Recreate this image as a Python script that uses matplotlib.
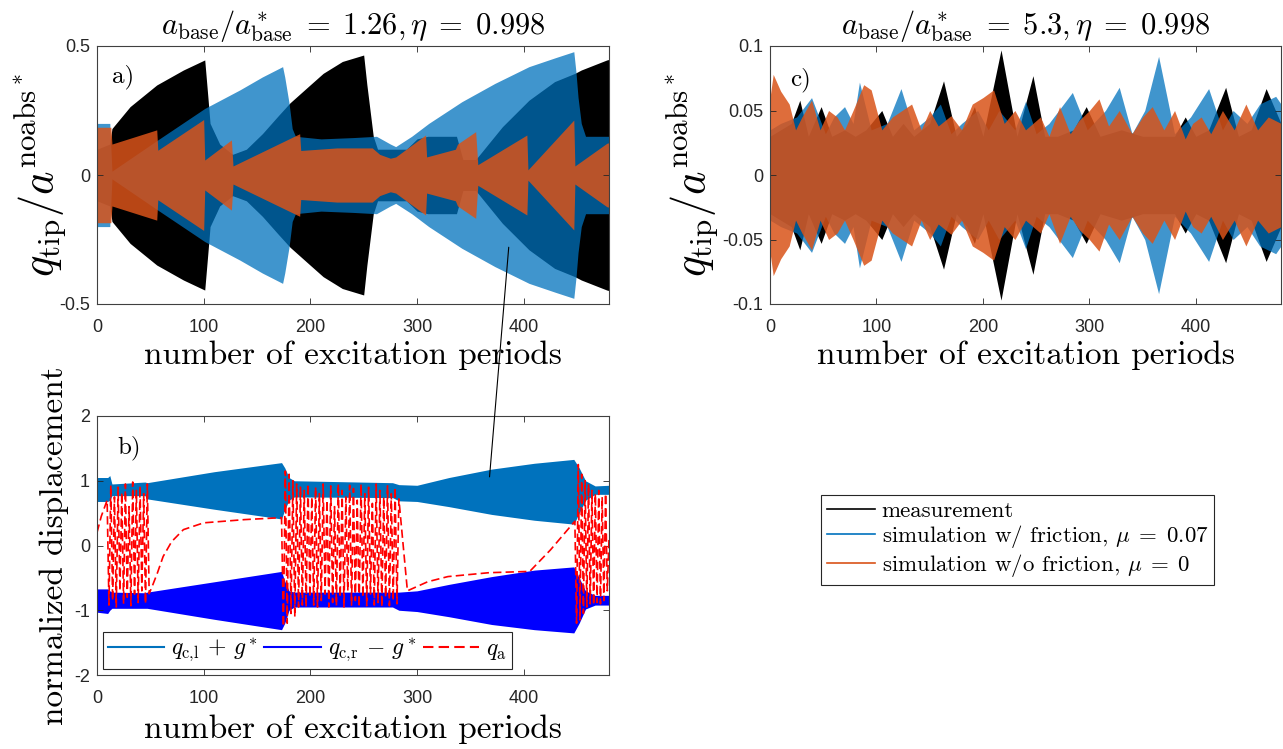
import numpy as np
import matplotlib.pyplot as plt
from matplotlib.lines import Line2D
from matplotlib.patches import ConnectionPatch

plt.rcParams['mathtext.fontset'] = 'cm'
plt.rcParams['axes.unicode_minus'] = False
plt.rcParams['font.family'] = ['Liberation Sans', 'DejaVu Sans']

C_MEAS = 'black'
C_FRIC = '#0072BD'
C_NOFR = '#D95319'

# ---- panel a: envelope (half amplitude) of each signal
a_meas_x = [0, 12, 14, 31, 56, 81, 101, 104, 106, 115, 127, 140, 155, 170, 181, 200, 212, 230, 250, 253,
            256, 259, 263, 290, 300, 310, 337, 343, 355, 380, 405, 429, 448, 454, 478, 480]
a_meas_amp = [0.10, 0.12, 0.18, 0.265, 0.349, 0.407, 0.446, 0.30, 0.20, 0.12, 0.08, 0.10, 0.16, 0.23, 0.28, 0.35, 0.394, 0.44, 0.465, 0.35,
              0.25, 0.15, 0.10, 0.10, 0.14, 0.15, 0.15, 0.06, 0.06, 0.187, 0.29, 0.362, 0.394, 0.407, 0.446, 0.448]

a_fric_x = [0, 12, 14, 57, 101, 134, 155, 174, 176, 180, 183, 186, 210, 240, 262, 275, 280, 295, 311, 342,
            373, 405, 430, 447, 449, 451, 454, 458, 480]
a_fric_amp = [0.20, 0.20, 0.015, 0.136, 0.258, 0.33, 0.38, 0.42, 0.38, 0.28, 0.18, 0.15, 0.14, 0.145, 0.15, 0.12, 0.11, 0.15, 0.20, 0.284,
              0.355, 0.42, 0.455, 0.478, 0.40, 0.30, 0.20, 0.15, 0.15]

a_nofr_x = [0, 13, 14, 56, 57, 100, 101, 126, 127.5, 160, 190, 191, 225, 258, 265, 275, 280, 308, 309, 336,
            338, 355, 357, 403, 404, 447, 448, 478, 480]
a_nofr_amp = [0.185, 0.185, 0.12, 0.175, 0.096, 0.215, 0.058, 0.136, 0.035, 0.10, 0.16, 0.095, 0.105, 0.105, 0.08, 0.065, 0.07, 0.155, 0.07, 0.10,
              0.12, 0.168, 0.04, 0.155, 0.02, 0.213, 0.035, 0.123, 0.125]

# ---- panel c: envelopes
c_meas_x = [0, 10, 20, 28, 36, 48, 58, 70, 80, 90, 105, 115, 125, 135, 150, 163, 175, 185, 192, 200,
            217, 232, 247, 258, 270, 285, 297, 310, 330, 350, 370, 380, 390, 400, 412, 428, 440, 452, 466, 480]
c_meas_amp = [0.03, 0.035, 0.04, 0.058, 0.03, 0.053, 0.03, 0.035, 0.03, 0.035, 0.05, 0.03, 0.04, 0.03, 0.04, 0.073, 0.03, 0.04, 0.053, 0.03,
              0.097, 0.03, 0.077, 0.03, 0.03, 0.035, 0.053, 0.03, 0.035, 0.03, 0.03, 0.03, 0.045, 0.03, 0.035, 0.068, 0.03, 0.035, 0.067, 0.04]

c_fric_x = [0, 10, 25, 39, 52, 60, 70, 78, 84, 95, 110, 123, 135, 150, 160, 170, 180, 195, 205, 215,
            230, 240, 250, 262, 284, 298, 315, 328, 340, 352, 365, 380, 395, 412, 425, 435, 448, 460, 475, 480]
c_fric_amp = [0.035, 0.04, 0.045, 0.06, 0.032, 0.045, 0.053, 0.04, 0.072, 0.035, 0.04, 0.067, 0.035, 0.045, 0.055, 0.032, 0.04, 0.05, 0.035, 0.05,
              0.035, 0.057, 0.032, 0.04, 0.064, 0.035, 0.05, 0.068, 0.032, 0.05, 0.092, 0.032, 0.045, 0.067, 0.035, 0.05, 0.04, 0.055, 0.061, 0.055]

c_nofr_x = [0, 3, 10, 18, 24, 30, 39, 47, 55, 63, 70, 78, 88, 95, 105, 115, 124, 133, 142, 150,
            158, 170, 180, 190, 200, 210, 220, 230, 240, 247, 254, 262, 272, 282, 290, 300, 309, 318, 328, 340,
            350, 359, 370, 380, 390, 397, 405, 414, 425, 436, 447, 458, 468, 480]
c_nofr_amp = [0.06, 0.078, 0.065, 0.055, 0.035, 0.045, 0.058, 0.035, 0.05, 0.045, 0.035, 0.05, 0.07, 0.066, 0.035, 0.045, 0.05, 0.055, 0.035, 0.05,
              0.038, 0.046, 0.035, 0.055, 0.06, 0.066, 0.04, 0.05, 0.035, 0.04, 0.045, 0.03, 0.053, 0.032, 0.042, 0.05, 0.059, 0.038, 0.05, 0.032,
              0.045, 0.053, 0.035, 0.05, 0.028, 0.04, 0.045, 0.032, 0.05, 0.035, 0.055, 0.035, 0.045, 0.04]

# ---- panel b: contact bands (upper / lower edge) and absorber displacement
b_x = [0, 10, 12, 14, 45, 47, 110, 173, 176, 180, 185, 277, 283, 300, 330, 370, 410, 447, 452, 458, 467, 480]
b_left_top = [1.05, 1.05, 1.08, 0.95, 0.98, 0.97, 1.14, 1.28, 1.20, 1.05, 1.00, 0.97, 0.94, 0.93, 1.05, 1.18, 1.27, 1.33, 1.20, 1.00, 0.92, 0.93]
b_left_bot = [0.68, 0.68, 0.70, 0.77, 0.77, 0.72, 0.56, 0.41, 0.55, 0.70, 0.75, 0.74, 0.69, 0.68, 0.60, 0.48, 0.39, 0.33, 0.50, 0.70, 0.79, 0.79]
b_right_top = [-0.67, -0.67, -0.70, -0.72, -0.73, -0.72, -0.56, -0.40, -0.55, -0.70, -0.72, -0.72, -0.72, -0.70, -0.60, -0.48, -0.38, -0.33, -0.50, -0.70, -0.77, -0.77]
b_right_bot = [-1.03, -1.05, -1.00, -0.97, -0.97, -0.97, -1.14, -1.30, -1.20, -1.00, -0.95, -0.95, -1.00, -1.02, -1.10, -1.22, -1.30, -1.35, -1.20, -0.98, -0.92, -0.92]

qa_s0_x = [0, 4]
qa_s0_y = [0.20, 0.45]
qa_chat1 = [0.70, -0.92, 0.93, -0.85, 0.75, -0.95, 0.90, -0.70, 0.82, -0.90, 0.95, -0.80, 0.60, -0.93, 0.98, -0.75,
            0.85, -0.88, 0.92, -0.70, 0.80, -0.90, 0.95, -0.745]
qa_s1_x = [52, 56.5, 62, 70, 81, 100, 138.5]
qa_s1_y = [-0.62, -0.43, -0.17, 0.06, 0.245, 0.35, 0.40]
qa_chat2 = [0.43, -1.25, 1.15, -1.20, 1.10, -1.05, 1.00, -1.10, 0.95, -0.95, 0.90, -0.92, 0.85, -0.95, 0.95, -0.80,
            0.75, -0.92, 0.90, -0.95, 0.80, -0.85, 0.95, -0.75, 0.70, -0.95, 0.92, -0.88, 0.60, -0.93, 0.95, -0.80,
            0.85, -0.95, 0.75, -0.70, 0.93, -0.92, 0.88, -0.85, 0.70, -0.95, 0.95, -0.80, 0.80, -0.93, 0.90, -0.75,
            0.65, -0.92, 0.95, -0.88, 0.85, -0.95, 0.75, -0.80, 0.92, -0.93, 0.80, -0.85, 0.90, -0.90, 0.72]
qa_s2_x = [291, 310, 329, 367.5, 405.7, 425]
qa_s2_y = [-0.70, -0.56, -0.48, -0.42, -0.40, -0.07]
qa_chat3 = [0.375, -1.20, 1.25, -1.15, 1.10, -1.05, 1.00, -0.95, 0.95, -0.90, 0.85, -0.92, 0.80, -0.88, 0.85, -0.90,
            0.75, -0.85, 0.80, -0.70, 0.10]

qa_x = np.concatenate([qa_s0_x, np.linspace(9.5, 48.9, len(qa_chat1)), qa_s1_x,
                       np.linspace(173, 283, len(qa_chat2)), qa_s2_x, np.linspace(448, 480, len(qa_chat3))])
qa_y = np.concatenate([qa_s0_y, qa_chat1, qa_s1_y, qa_chat2, qa_s2_y, qa_chat3])

W, H = 1283, 749
fig = plt.figure(figsize=(W / 100, H / 100), dpi=100)


def box(l, t, r, b):
    return [l / W, 1 - b / H, (r - l) / W, (b - t) / H]


def style(ax):
    ax.tick_params(direction='in', top=True, right=True, length=4, width=0.6,
                   colors='#262626', labelsize=13)
    ax.tick_params(axis='x', pad=11)
    ax.tick_params(axis='y', pad=5)
    for s in ax.spines.values():
        s.set_linewidth(0.8)
        s.set_color('#404040')
    ax.set_xlim(0, 480)
    ax.set_xticks([0, 100, 200, 300, 400])


def envelope(ax, x, amp, color, alpha):
    amp = np.asarray(amp)
    ax.fill_between(x, -amp, amp, color=color, alpha=alpha, lw=0)


serif = 'cmr10'
ylab = r'$q_{\mathrm{tip}}/a^{\mathrm{noabs}^*}$'
xlab = 'number of excitation periods'

# panel a
ax_a = fig.add_axes(box(97, 46, 609, 304))
envelope(ax_a, a_meas_x, a_meas_amp, C_MEAS, 1.0)
envelope(ax_a, a_fric_x, a_fric_amp, C_FRIC, 0.75)
envelope(ax_a, a_nofr_x, a_nofr_amp, C_NOFR, 0.85)
style(ax_a)
ax_a.set_ylim(-0.5, 0.5)
ax_a.set_yticks([-0.5, 0, 0.5])
ax_a.set_yticklabels(['-0.5', '0', '0.5'])
ax_a.set_title(r'$a_{\mathrm{base}}/a^*_{\mathrm{base}} \;=\; 1.26, \eta \;=\; 0.998$', fontsize=22, pad=9)
ax_a.set_ylabel(ylab, fontsize=32, labelpad=-7)
ax_a.set_xlabel(xlab, fontfamily=serif, fontsize=24, labelpad=3)
ax_a.text(0.03, 0.88, 'a)', transform=ax_a.transAxes, fontfamily=serif, fontsize=18, va='center')

# panel c
ax_c = fig.add_axes(box(770, 46, 1281, 304))
envelope(ax_c, c_meas_x, c_meas_amp, C_MEAS, 1.0)
envelope(ax_c, c_fric_x, c_fric_amp, C_FRIC, 0.75)
envelope(ax_c, c_nofr_x, c_nofr_amp, C_NOFR, 0.85)
style(ax_c)
ax_c.set_ylim(-0.1, 0.1)
ax_c.set_yticks([-0.1, -0.05, 0, 0.05, 0.1])
ax_c.set_yticklabels(['-0.1', '-0.05', '0', '0.05', '0.1'])
ax_c.set_title(r'$a_{\mathrm{base}}/a^*_{\mathrm{base}} \;=\; 5.3, \eta \;=\; 0.998$', fontsize=22, pad=9)
ax_c.set_ylabel(ylab, fontsize=32, labelpad=1)
ax_c.set_xlabel(xlab, fontfamily=serif, fontsize=24, labelpad=3)
ax_c.text(0.04, 0.87, 'c)', transform=ax_c.transAxes, fontfamily=serif, fontsize=18, va='center')

# panel b
ax_b = fig.add_axes(box(97, 416, 609, 675))
ax_b.fill_between(b_x, b_left_bot, b_left_top, color=C_FRIC, lw=0)
ax_b.fill_between(b_x, b_right_bot, b_right_top, color='#0000FF', lw=0)
ax_b.plot(qa_x, qa_y, color='red', lw=1.2, dashes=(5, 2.5))
style(ax_b)
ax_b.set_ylim(-2, 2)
ax_b.set_yticks([-2, -1, 0, 1, 2])
ax_b.set_ylabel('normalized displacement', fontfamily=serif, fontsize=24, labelpad=4)
ax_b.set_xlabel(xlab, fontfamily=serif, fontsize=24, labelpad=5)
ax_b.text(0.04, 0.877, 'b)', transform=ax_b.transAxes, fontfamily=serif, fontsize=18, va='center')
hb = [Line2D([], [], color=C_FRIC, lw=1.5), Line2D([], [], color='#0000FF', lw=1.5),
      Line2D([], [], color='red', lw=1.5, dashes=(5, 2.5))]
lb = [r'$q_{\mathrm{c{,}l}} \,+\, g^*$', r'$q_{\mathrm{c{,}r}} \,-\, g^*$', r'$q_{\mathrm{a}}$']
leg_b = ax_b.legend(hb, lb, loc='lower left', ncol=3, fontsize=17, handlelength=2.4,
                    columnspacing=0.25, handletextpad=0.3, borderaxespad=0.25,
                    fancybox=False, framealpha=1, edgecolor='#262626', borderpad=0.2)
leg_b.get_frame().set_linewidth(0.8)

# connecting line between b) and a)
con = ConnectionPatch(xyA=(368, 1.06), coordsA=ax_b.transData, xyB=(386, -0.28), coordsB=ax_a.transData,
                      color='black', lw=0.8)
fig.add_artist(con)

# figure legend
hf = [Line2D([], [], color=C_MEAS, lw=1.2), Line2D([], [], color=C_FRIC, lw=1.2), Line2D([], [], color=C_NOFR, lw=1.2)]
lf = ['measurement', r'simulation w/ friction, $\mu \;=\; 0.07$', r'simulation w/o friction, $\mu \;=\; 0$']
leg_f = fig.legend(hf, lf, loc='upper left', bbox_to_anchor=(821 / W, 1 - 495 / H),
                   prop={'family': serif, 'size': 16.5}, handlelength=2.1, handletextpad=0.3, labelspacing=0.1,
                   fancybox=False, framealpha=1, edgecolor='#262626', borderpad=0.25, borderaxespad=0)
leg_f.get_frame().set_linewidth(0.8)

fig.savefig('out.png', dpi=100)
